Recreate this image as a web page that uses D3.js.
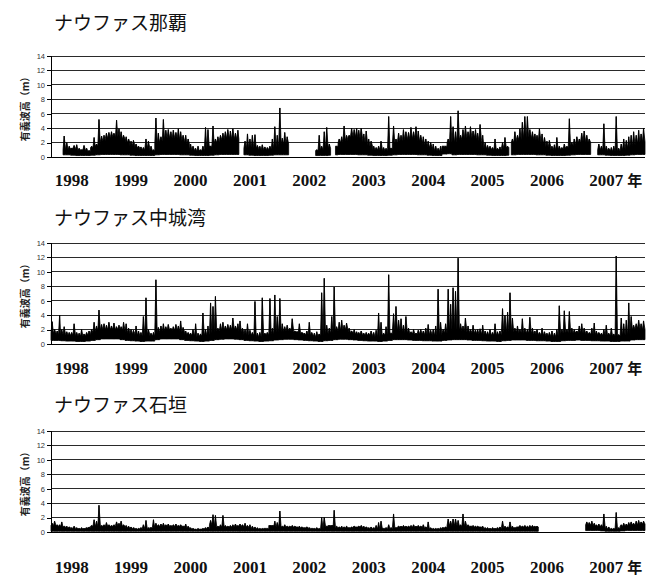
<!DOCTYPE html>
<html>
<head>
<meta charset="utf-8">
<script src="https://cdn.jsdelivr.net/npm/d3@7"></script>
<style>
  body { margin: 0; background: #fff; }
  svg { display: block; }
</style>
</head>
<body>
<svg id="chart"></svg>
<script>
// 有義波高 半月ごとの最大値・月の帯の上端・月の下端, 1998-2007
const years = [1998, 1999, 2000, 2001, 2002, 2003, 2004, 2005, 2006, 2007]
const yTicks = [0, 2, 4, 6, 8, 10, 12, 14]
const titles = ["ナウファス那覇", "ナウファス中城湾", "ナウファス石垣"]
const yLabel = "有義波高（m）"

// half-month peaks (24 per year)
const nahaPeak = [
  null,null,null,null,null,2.9,2.0,1.5,1.2,1.6,1.7,1.2,1.0,1.6,1.2,0.9,1.5,2.7,1.8,5.2,2.9,3.0,3.3,3.4,
  3.5,3.3,5.1,3.9,3.5,3.0,2.8,2.5,2.2,2.3,1.8,1.5,1.4,1.3,2.5,2.2,1.5,1.0,5.4,3.3,2.8,5.2,3.7,3.8,
  3.5,3.7,3.4,3.9,3.5,3.0,3.0,2.5,1.8,1.5,1.2,1.5,1.0,1.5,4.1,3.8,1.5,4.3,2.5,2.8,3.0,3.3,3.5,3.8,
  3.6,3.9,3.3,3.7,null,null,2.2,3.2,2.5,3.0,3.1,1.6,1.5,1.7,1.4,1.3,1.5,2.5,4.2,3.0,6.8,2.6,3.4,2.8,
  null,null,null,null,null,null,null,null,null,null,null,1.0,3.0,1.5,3.5,4.1,1.8,null,null,1.5,2.5,2.8,4.3,3.0,
  3.0,4.0,3.8,4.0,3.7,4.0,3.2,3.6,2.5,2.2,1.5,1.3,1.5,2.2,1.3,1.2,5.6,1.2,4.3,2.5,3.3,3.0,3.8,3.5,
  3.4,4.1,3.5,4.2,3.6,3.0,2.8,2.5,2.2,2.0,1.8,1.5,1.2,1.5,1.0,1.0,2.5,5.6,4.2,3.5,6.4,3.0,3.8,4.3,
  3.5,4.2,3.6,3.8,3.3,4.5,3.0,2.0,1.6,1.5,1.3,2.5,1.2,1.4,2.0,2.7,1.5,null,2.5,3.5,3.0,3.9,4.8,5.6,
  5.6,3.8,3.5,3.2,3.0,3.9,3.2,2.7,2.2,2.3,1.5,1.7,2.7,1.5,1.3,1.8,1.5,5.3,2.0,2.5,2.8,2.5,3.3,3.6,
  3.0,2.5,null,null,null,1.8,1.5,4.6,1.5,1.2,1.3,1.5,5.6,1.2,1.8,2.5,2.3,2.8,3.0,3.5,3.0,3.7,3.2,4.0
]
// monthly upper edge of the dense band
const nahaTop = [
  null,null,1.0,1.0,1.2,0.9,1.0,0.8,1.3,1.6,2.2,2.6,
  2.8,2.8,2.5,2.0,1.6,1.3,1.0,1.2,0.9,1.8,2.2,2.6,
  2.6,2.6,2.3,1.8,1.0,0.8,0.9,1.2,1.5,2.0,2.4,2.6,
  2.5,2.5,null,1.2,1.3,1.2,1.0,1.0,1.1,1.4,1.8,1.8,
  null,null,null,null,null,0.9,1.0,1.2,1.2,1.5,2.0,2.3,
  2.8,2.8,2.6,2.0,1.5,1.0,1.0,0.9,1.2,1.9,2.2,2.4,
  2.5,2.6,2.2,1.7,1.3,0.9,0.8,1.5,2.0,2.0,2.4,2.6,
  2.7,2.7,2.3,1.2,1.1,1.0,1.0,1.2,1.3,2.0,2.4,2.6,
  2.7,2.5,2.3,1.8,1.4,1.0,1.0,1.1,1.3,1.6,1.9,2.2,
  2.0,null,1.0,1.0,0.9,0.8,0.8,1.0,1.3,1.6,1.9,2.1
]
// monthly lower edge
const nahaLow = [
  0.3,0.3,0.3,0.3,0.25,0.2,0.2,0.2,0.25,0.3,0.35,0.35,
  0.35,0.35,0.3,0.3,0.25,0.2,0.2,0.2,0.2,0.3,0.35,0.35,
  0.35,0.35,0.3,0.3,0.25,0.2,0.2,0.2,0.25,0.3,0.35,0.35,
  0.35,0.35,0.3,0.3,0.25,0.2,0.2,0.2,0.25,0.3,0.3,0.3,
  0.3,0.3,0.3,0.3,0.25,0.2,0.2,0.2,0.25,0.3,0.35,0.35,
  0.35,0.35,0.3,0.3,0.25,0.2,0.2,0.2,0.25,0.3,0.35,0.35,
  0.35,0.35,0.3,0.3,0.25,0.2,0.2,0.4,0.45,0.3,0.35,0.35,
  0.35,0.35,0.3,0.3,0.25,0.2,0.2,0.2,0.25,0.3,0.35,0.35,
  0.35,0.35,0.3,0.3,0.25,0.2,0.2,0.2,0.25,0.3,0.35,0.35,
  0.35,0.3,0.3,0.3,0.25,0.2,0.2,0.2,0.25,0.3,0.35,0.35
]

const nakaPeak = [
  3.1,2.0,1.8,4.0,2.0,2.4,1.7,1.6,1.6,2.8,1.6,1.5,2.0,1.4,1.6,1.8,2.0,3.0,2.5,4.7,2.7,2.8,2.6,3.0,
  2.5,2.9,2.4,2.6,2.4,3.0,2.8,2.2,2.0,1.9,2.5,1.8,1.6,3.8,6.4,2.0,1.5,1.6,8.9,2.3,2.5,2.8,2.4,2.7,
  2.2,2.4,2.7,2.5,3.2,2.3,1.8,1.6,1.5,2.0,2.8,1.5,1.4,4.3,2.0,2.5,5.7,5.2,6.6,2.2,2.8,3.0,2.5,2.7,
  2.6,3.6,2.5,2.8,3.2,2.2,2.0,2.8,1.9,1.6,5.9,1.5,1.6,6.4,1.5,1.6,6.3,2.2,6.8,3.8,6.3,2.8,2.4,2.6,
  2.2,3.5,1.8,1.7,2.8,1.6,1.5,1.8,3.0,1.6,1.5,1.7,1.4,7.1,9.1,2.6,2.2,3.8,7.9,2.4,3.0,3.3,2.6,2.9,
  2.2,1.8,2.0,1.7,1.6,1.8,1.5,1.6,1.5,1.8,1.6,1.9,4.3,3.0,1.5,2.4,9.6,1.5,4.2,5.2,3.3,3.5,2.6,3.8,
  2.2,1.7,2.0,1.5,1.9,2.0,1.8,2.2,2.7,1.9,2.0,2.5,7.6,3.0,2.0,2.8,7.6,5.5,7.8,7.3,11.9,2.8,2.5,3.6,
  2.5,2.0,2.6,1.9,2.0,2.1,2.6,1.8,1.7,2.0,1.6,2.8,1.7,1.8,4.9,4.0,4.4,7.1,3.6,2.2,2.5,2.0,3.5,2.2,
  2.0,3.7,2.2,1.8,2.0,1.6,2.2,1.7,1.5,1.6,1.8,1.5,2.0,5.3,2.0,4.6,2.0,4.5,2.2,2.0,1.8,2.5,2.8,2.2,
  1.8,1.6,2.2,2.9,1.8,1.6,1.5,2.0,2.6,1.5,2.2,1.4,12.2,1.3,3.6,2.8,3.3,5.7,3.8,2.6,2.8,3.3,2.8,3.2
]
const nakaTop = [
  1.5,1.3,1.3,1.2,1.2,1.1,1.1,1.2,1.6,1.9,2.0,2.0,
  2.0,2.0,1.9,1.6,1.4,1.2,1.1,1.3,1.1,1.6,1.8,1.9,
  1.9,1.9,1.7,1.3,1.2,1.0,1.1,1.2,1.5,1.8,1.9,2.0,
  2.0,2.0,1.7,1.3,1.2,1.0,1.0,1.3,1.4,1.6,1.7,1.8,
  1.8,1.7,1.5,1.3,1.2,1.0,1.2,1.4,1.5,1.8,1.9,2.0,
  1.6,1.4,1.3,1.2,1.2,1.0,1.0,1.2,1.5,1.9,1.8,1.6,
  1.5,1.4,1.4,1.3,1.3,1.2,1.2,1.5,1.8,2.0,1.9,1.8,
  1.6,1.5,1.4,1.3,1.2,1.2,1.2,1.6,1.7,1.7,1.6,1.5,
  1.5,1.4,1.3,1.2,1.1,1.0,1.1,1.5,1.6,1.5,1.6,1.5,
  1.4,1.3,1.3,1.2,1.2,1.1,1.1,1.2,1.2,2.0,2.2,2.0
]
const nakaLow = [
  0.5,0.5,0.45,0.4,0.4,0.35,0.35,0.4,0.5,0.6,0.7,0.7,
  0.7,0.7,0.6,0.5,0.45,0.4,0.35,0.4,0.4,0.6,0.7,0.7,
  0.7,0.7,0.6,0.5,0.45,0.4,0.35,0.4,0.5,0.6,0.65,0.7,
  0.7,0.65,0.6,0.5,0.45,0.4,0.35,0.4,0.45,0.55,0.6,0.65,
  0.65,0.6,0.55,0.5,0.45,0.4,0.35,0.45,0.5,0.6,0.65,0.65,
  0.6,0.55,0.5,0.45,0.4,0.4,0.35,0.4,0.5,0.6,0.6,0.6,
  0.55,0.5,0.5,0.45,0.45,0.4,0.4,0.5,0.55,0.6,0.6,0.6,
  0.55,0.5,0.5,0.45,0.4,0.4,0.35,0.45,0.5,0.55,0.55,0.55,
  0.5,0.5,0.45,0.45,0.4,0.35,0.35,0.45,0.5,0.5,0.55,0.5,
  0.5,0.45,0.45,0.4,0.4,0.35,0.35,0.4,0.4,0.55,0.6,0.6
]

const ishiPeak = [
  1.2,1.5,1.0,1.0,1.4,0.8,0.8,0.7,0.6,0.8,0.6,0.5,0.6,0.5,0.6,0.7,0.9,1.7,1.5,3.7,0.9,1.0,1.3,1.0,
  0.9,1.0,1.4,1.2,1.5,1.0,0.9,0.8,0.7,0.6,0.5,0.5,0.6,1.0,1.6,0.6,0.5,1.7,1.2,1.0,1.1,1.2,1.0,1.1,
  0.9,1.0,1.1,0.9,1.0,0.8,1.1,0.8,0.6,0.5,0.4,0.5,0.4,0.5,0.6,0.7,1.6,2.4,2.3,0.8,1.0,2.3,0.9,0.8,
  0.9,1.0,1.1,0.9,1.1,1.0,1.2,0.9,1.0,0.8,0.7,0.6,0.5,0.5,0.4,0.5,0.5,0.6,1.5,1.3,2.9,0.8,1.0,0.8,
  0.8,0.9,0.8,0.7,0.8,0.7,0.6,0.7,0.6,0.5,0.5,0.6,0.5,2.0,2.0,0.6,0.7,0.8,3.0,0.8,0.7,0.8,0.7,0.8,
  0.6,0.7,0.8,0.7,0.8,0.9,0.8,0.7,0.6,0.7,0.6,0.9,1.3,1.5,0.5,0.6,1.0,0.6,2.5,0.6,0.8,0.8,0.9,0.8,
  0.8,0.9,1.0,0.8,0.9,0.8,1.0,0.7,1.4,0.6,0.5,0.5,0.5,0.6,0.5,0.7,1.8,1.5,1.8,1.8,1.6,1.0,2.5,1.5,
  1.0,0.8,0.9,0.8,0.8,0.7,0.8,0.6,0.6,0.5,0.6,0.5,0.6,0.7,1.5,0.8,0.7,1.4,0.8,0.6,0.7,0.9,0.8,0.9,
  0.8,0.9,0.9,0.8,0.8,null,null,null,null,null,null,null,null,null,null,null,null,null,null,null,null,null,null,null,
  1.4,1.3,1.5,1.2,1.0,1.1,1.0,2.5,0.8,0.7,0.5,0.5,2.7,0.6,1.0,1.2,1.1,1.3,1.4,1.2,1.5,1.6,1.4,1.5
]
const ishiTop = [
  0.9,0.8,0.7,0.6,0.5,0.45,0.45,0.55,0.8,0.8,0.8,0.8,
  0.8,0.9,0.8,0.6,0.5,0.4,0.5,0.5,0.6,0.8,0.8,0.8,
  0.8,0.8,0.8,0.6,0.4,0.35,0.4,0.5,1.0,0.7,0.7,0.7,
  0.7,0.8,0.8,0.7,0.5,0.4,0.4,0.5,0.9,0.7,0.7,0.7,
  0.7,0.7,0.6,0.6,0.5,0.45,0.4,0.8,0.9,0.6,0.6,0.6,
  0.6,0.7,0.7,0.6,0.5,0.5,0.4,0.5,0.5,0.6,0.7,0.7,
  0.7,0.7,0.7,0.6,0.4,0.4,0.4,0.6,0.9,0.9,0.8,0.8,
  0.8,0.7,0.7,0.5,0.45,0.45,0.5,0.6,0.6,0.6,0.7,0.7,
  0.65,0.7,0.7,null,null,null,null,null,null,null,null,null,
  1.0,0.9,0.8,0.7,0.4,0.4,0.5,0.8,0.9,1.0,1.0,1.1
]
const ishiLow = [
  0.1,0.1,0.1,0.1,0.1,0.1,0.1,0.1,0.1,0.1,0.1,0.1,
  0.1,0.1,0.1,0.1,0.1,0.1,0.1,0.1,0.1,0.1,0.1,0.1,
  0.1,0.1,0.1,0.1,0.1,0.1,0.1,0.1,0.1,0.1,0.1,0.1,
  0.1,0.1,0.1,0.1,0.1,0.1,0.1,0.1,0.1,0.1,0.1,0.1,
  0.1,0.1,0.1,0.1,0.1,0.1,0.1,0.1,0.1,0.1,0.1,0.1,
  0.1,0.1,0.1,0.1,0.1,0.1,0.1,0.1,0.1,0.1,0.1,0.1,
  0.1,0.1,0.1,0.1,0.1,0.1,0.1,0.1,0.1,0.1,0.1,0.1,
  0.1,0.1,0.1,0.1,0.1,0.1,0.1,0.1,0.1,0.1,0.1,0.1,
  0.1,0.1,0.1,0.1,0.1,0.1,0.1,0.1,0.1,0.1,0.1,0.1,
  0.2,0.2,0.2,0.15,0.1,0.1,0.1,0.15,0.2,0.2,0.2,0.2
]

const width = 661, height = 578
const left = 51, right = 645

const svg = d3.select('#chart')
    .attr('width', width)
    .attr('height', height)

const x = d3.scaleTime()
    .domain([new Date(1998, 0, 1), new Date(2008, 0, 1)])
    .range([left, right])

const panels = [
  {title: titles[0], peak: nahaPeak, top: nahaTop, low: nahaLow, plotTop: 56, titleY: 29.5, yearY: 185.5},
  {title: titles[1], peak: nakaPeak, top: nakaTop, low: nakaLow, plotTop: 243, titleY: 224.5, yearY: 373.5},
  {title: titles[2], peak: ishiPeak, top: ishiTop, low: ishiLow, plotTop: 431, titleY: 412, yearY: 572.5}
]
const plotH = 101

function drawPanel(p) {
    const y = d3.scaleLinear()
        .domain([0, 14])
        .range([p.plotTop + plotH, p.plotTop])

    const g = svg.append('g')

    g.append('text')
        .attr('x', 54)
        .attr('y', p.titleY)
        .attr('font-family', '"Noto Sans CJK JP", sans-serif')
        .attr('font-size', 19)
        .attr('fill', '#111')
        .text(p.title)

    // grid lines
    g.append('g').selectAll('line')
        .data(yTicks)
        .enter().append('line')
        .attr('x1', left).attr('x2', right)
        .attr('y1', d => y(d)).attr('y2', d => y(d))
        .attr('stroke', d => d === 0 ? '#000' : '#2a2a2a')
        .attr('stroke-width', 1)
        .attr('shape-rendering', 'crispEdges')

    const yAxis = d3.axisLeft(y).tickValues(yTicks).tickSize(4).tickPadding(2)
    const ax = g.append('g')
        .attr('transform', `translate(${left},0)`)
        .call(yAxis)
    ax.selectAll('path, line')
        .attr('stroke', '#000')
        .attr('shape-rendering', 'crispEdges')
    ax.selectAll('text')
        .attr('font-family', '"Liberation Sans", Arial, sans-serif')
        .attr('font-size', 7.5)
        .attr('fill', '#333')

    g.append('text')
        .attr('transform', `translate(29,${p.plotTop + plotH / 2}) rotate(-90)`)
        .attr('text-anchor', 'middle')
        .attr('font-family', '"Noto Sans CJK JP", sans-serif')
        .attr('font-size', 10)
        .attr('font-weight', 'bold')
        .attr('fill', '#222')
        .text(yLabel)

    // each half-month: band edge at its start and end, its peak in the middle
    const pts = []
    p.peak.forEach((v, i) => {
        const yr = years[0] + Math.floor(i / 24),
              m = Math.floor((i % 24) / 2),
              h = i % 2,
              mi = Math.floor(i / 2),
              top = p.top[mi],
              low = p.low[mi],
              ok = v != null && top != null
        const start = new Date(yr, m, h ? 16 : 1),
              mid = new Date(yr, m, h ? 23 : 8),
              end = h ? new Date(yr, m + 1, 1) : new Date(yr, m, 16)
        pts.push({date: start, hi: top, lo: low, ok: ok})
        pts.push({date: mid, hi: ok ? Math.max(v, top) : null, lo: low, ok: ok})
        pts.push({date: end, hi: top, lo: low, ok: ok})
    })

    const area = d3.area()
        .defined(d => d.ok)
        .x(d => x(d.date))
        .y0(d => y(d.lo))
        .y1(d => y(d.hi))

    g.append('path')
        .datum(pts)
        .attr('d', area)
        .attr('fill', '#000')
        .attr('stroke', '#000')
        .attr('stroke-width', 0.8)
        .attr('stroke-linejoin', 'miter')

    g.append('g').selectAll('line')
        .data(pts.filter((d, i) => i % 3 === 1 && d.ok))
        .enter().append('line')
        .attr('x1', d => x(d.date)).attr('x2', d => x(d.date))
        .attr('y1', d => y(d.lo)).attr('y2', d => y(d.hi))
        .attr('stroke', '#000')
        .attr('stroke-width', 1.1)

    // year labels
    g.append('g').selectAll('text')
        .data(years)
        .enter().append('text')
        .attr('x', d => x(new Date(d, 4, 8)))
        .attr('y', p.yearY)
        .attr('text-anchor', 'middle')
        .attr('font-family', '"Liberation Serif", "Times New Roman", serif')
        .attr('font-weight', 'bold')
        .attr('font-size', 17)
        .attr('fill', '#111')
        .text(d => d)

    g.append('text')
        .attr('x', x(new Date(2007, 4, 8)) + 21)
        .attr('y', p.yearY)
        .attr('font-family', '"Noto Sans CJK JP", sans-serif')
        .attr('font-weight', 'bold')
        .attr('font-size', 15)
        .attr('fill', '#111')
        .text('年')
}

panels.forEach(drawPanel)
</script>
</body>
</html>
